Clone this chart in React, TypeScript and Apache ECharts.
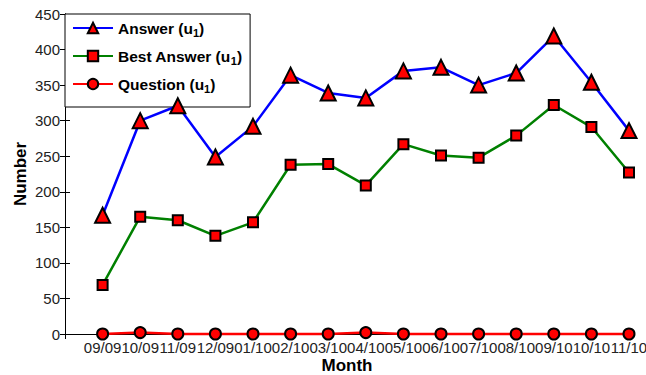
import React, { useEffect, useRef } from "react";
import * as echarts from "echarts";

const months = ["09/09", "10/09", "11/09", "12/09", "01/10", "02/10", "03/10", "04/10", "05/10", "06/10", "07/10", "08/10", "09/10", "10/10", "11/10"];
const answer = [167, 300, 321, 249, 292, 364, 339, 332, 370, 375, 350, 367, 419, 354, 286];
const bestAnswer = [69, 165, 160, 138, 157, 238, 239, 209, 267, 251, 248, 279, 322, 291, 227];
const question = [0, 2, 0, 0, 0, 0, 0, 2, 0, 0, 0, 0, 0, 0, 0];
const seriesNames = ["Answer", "Best Answer", "Question"];

const FONT = "'Liberation Sans', Arial, Helvetica, sans-serif";

export default function App() {
  const ref = useRef<HTMLDivElement>(null);
  useEffect(() => {
    if (!ref.current) return;
    const chart = echarts.init(ref.current, undefined, { renderer: "svg" });
    const toPairs = (arr: number[]) => arr.map((v, i) => [i + 1, v]);
    const markerStyle = { color: "#ff0000", borderColor: "#000000", borderWidth: 2 };
    chart.setOption({
      animation: false,
      textStyle: { fontFamily: FONT },
      grid: { left: 65, right: 17, top: 14, bottom: 41, show: false, containLabel: false, outerBoundsMode: "none" },
      legend: {
        orient: "vertical",
        left: 65,
        top: 14,
        padding: [6, 8, 13, 7],
        itemGap: 10,
        itemWidth: 40,
        itemHeight: 13,
        backgroundColor: "#ffffff",
        borderColor: "#000000",
        borderWidth: 1,
        borderRadius: 0,
        data: seriesNames,
        formatter: (name: string) => `{b|${name} (u}{s|1}{b|)}`,
        textStyle: {
          color: "#000",
          fontFamily: FONT,
          rich: {
            b: { fontSize: 15.5, fontWeight: "bold", fontFamily: FONT, color: "#000" },
            s: { fontSize: 11, fontWeight: "bold", fontFamily: FONT, color: "#000", padding: [9, 0, 0, 0] },
          },
        },
      },
      xAxis: [
        {
          type: "value",
          min: 0,
          max: 15,
          interval: 1,
          name: "Month",
          nameLocation: "middle",
          nameGap: 23,
          nameMoveOverlap: false,
          nameTextStyle: { fontSize: 17, fontWeight: "bold", color: "#000", fontFamily: FONT },
          axisLine: { show: true, lineStyle: { color: "#000", width: 1 } },
          axisTick: { show: true, inside: true, length: 5, lineStyle: { color: "#000" } },
          axisLabel: {
            show: true,
            fontSize: 15,
            color: "#222",
            margin: 6,
            showMinLabel: true,
            showMaxLabel: true,
            hideOverlap: false,
            interval: 0,
            formatter: (v: number) => (v >= 1 && v <= months.length ? months[v - 1] : ""),
          },
          splitLine: { show: false },
        },
        {
          type: "value",
          position: "top",
          min: 0,
          max: 15,
          interval: 1,
          axisLine: { show: true, lineStyle: { color: "#000", width: 1 } },
          axisTick: { show: true, inside: true, length: 5, lineStyle: { color: "#000" } },
          axisLabel: { show: false },
          splitLine: { show: false },
        },
      ],
      yAxis: [
        {
          type: "value",
          min: 0,
          max: 450,
          interval: 50,
          name: "Number",
          nameLocation: "middle",
          nameGap: 36,
          nameMoveOverlap: false,
          nameTextStyle: { fontSize: 17, fontWeight: "bold", color: "#000", fontFamily: FONT },
          axisLine: { show: true, lineStyle: { color: "#000", width: 1 } },
          axisTick: { show: true, inside: true, length: 5, lineStyle: { color: "#000" } },
          axisLabel: { fontSize: 15, color: "#222", margin: 5 },
          splitLine: { show: false },
        },
        {
          type: "value",
          position: "right",
          min: 0,
          max: 450,
          interval: 50,
          axisLine: { show: true, lineStyle: { color: "#000", width: 1 } },
          axisTick: { show: true, inside: true, length: 5, lineStyle: { color: "#000" } },
          axisLabel: { show: false },
          splitLine: { show: false },
        },
      ],
      series: [
        {
          name: seriesNames[0],
          type: "line",
          data: toPairs(answer),
          symbol: "triangle",
          symbolSize: 15,
          clip: false,
          z: 5,
          lineStyle: { color: "#0000ff", width: 2.5 },
          itemStyle: markerStyle,
        },
        {
          name: seriesNames[1],
          type: "line",
          data: toPairs(bestAnswer),
          symbol: "rect",
          symbolSize: 10,
          clip: false,
          z: 4,
          lineStyle: { color: "#008000", width: 2.5 },
          itemStyle: markerStyle,
        },
        {
          name: seriesNames[2],
          type: "line",
          data: toPairs(question),
          symbol: "circle",
          symbolSize: 11,
          clip: false,
          z: 3,
          lineStyle: { color: "#ff0000", width: 2.5 },
          itemStyle: markerStyle,
        },
      ],
    });
    return () => chart.dispose();
  }, []);
  return <div ref={ref} style={{ position: "absolute", left: 0, top: 0, width: 646, height: 375 }} />;
}
